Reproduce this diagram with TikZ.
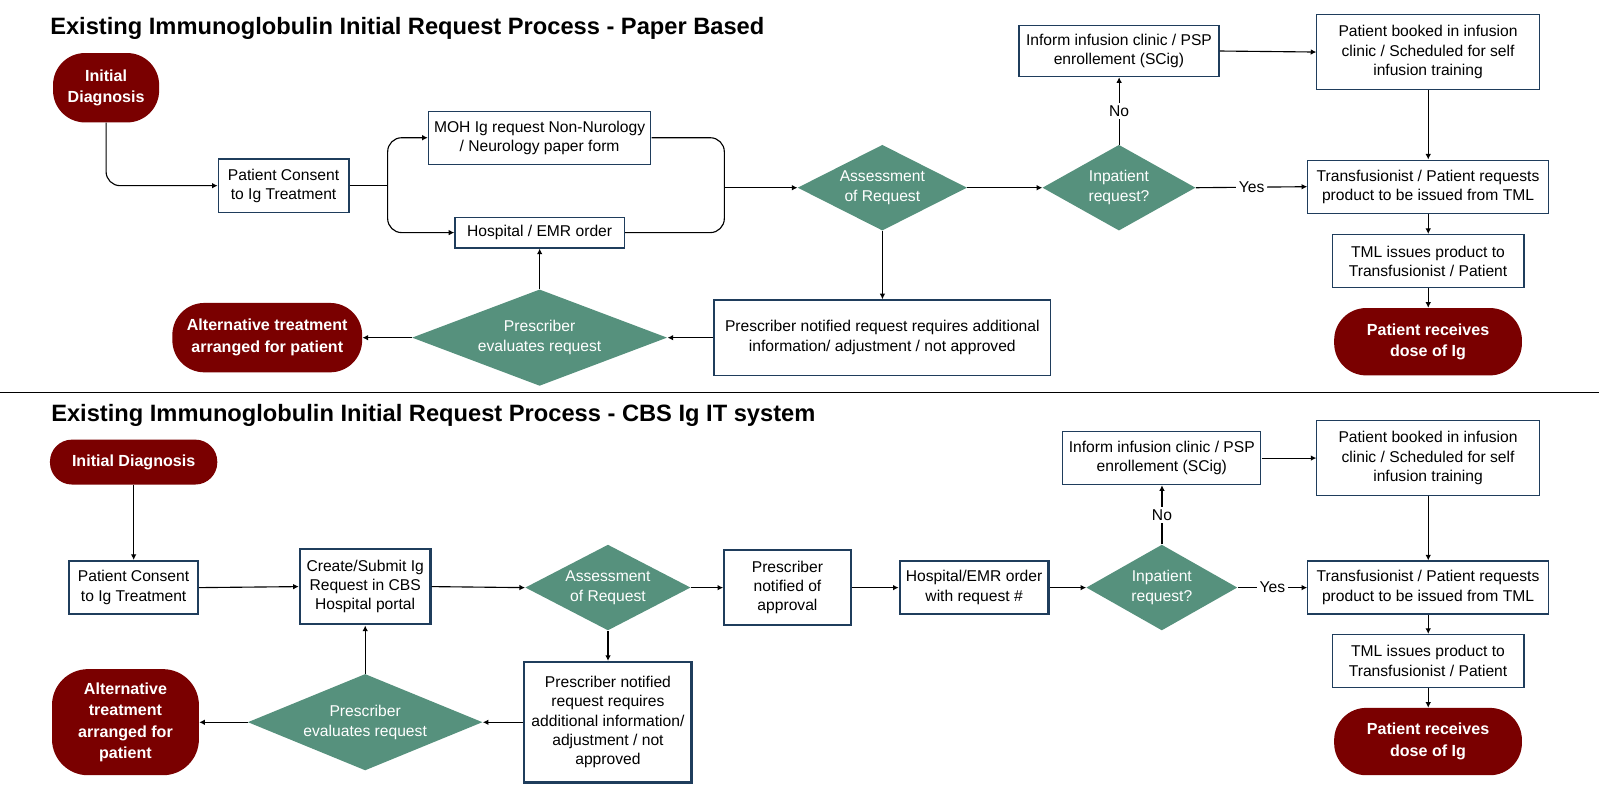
\documentclass[tikz,border=0pt]{standalone}
\usepackage{fontspec}
\setmainfont{Liberation Sans}
\usepackage{tikz}
\usetikzlibrary{shapes.geometric, arrows.meta, positioning}
\definecolor{ibred}{HTML}{7A0000}
\definecolor{ibgreen}{HTML}{56917D}
\definecolor{ibnavy}{HTML}{1F3D5C}
\tikzset{
  box/.style={draw=ibnavy, line width=0.9pt, fill=white, align=center, inner sep=1pt, font=\fontsize{10.9}{13.5}\selectfont},
  boxb/.style={box, line width=1.6pt},
  term/.style={fill=ibred, text=white, rounded corners=0.8cm, align=center, font=\fontsize{11.2}{15}\selectfont\bfseries},
  decide/.style={diamond, aspect=2, inner sep=0pt, fill=ibgreen, text=white, align=center, font=\fontsize{10.9}{14}\selectfont},
  flow/.style={-{Latex[length=4pt,width=4pt]}, line width=0.8pt},
  lbl/.style={fill=white, font=\fontsize{10.9}{12}\selectfont, inner sep=2pt},
  title/.style={anchor=west, inner sep=0pt, font=\fontsize{16.5}{19}\selectfont\bfseries}
}
\begin{document}
\begin{tikzpicture}[x=0.025cm, y=-0.025cm, scale=1.02, every node/.append style={transform shape}]

  % paper based
  \node[title] (title1) at (49,28) {Existing Immunoglobulin Initial Request Process - Paper Based};
  \node[term, minimum width=2.6cm, minimum height=1.7cm] (init1) at (104,86) {Initial\\Diagnosis};
  \node[box, minimum width=3.2cm, minimum height=1.3cm] (consent1) at (278,182) {Patient Consent\\to Ig Treatment};
  \node[box, minimum width=5.45cm, minimum height=1.3cm] (moh) at (529,135) {MOH Ig request Non-Nurology\\/ Neurology paper form};
  \node[box, minimum width=4.15cm, minimum height=0.75cm] (emr1) at (529,228) {Hospital / EMR order};
  \node[decide, minimum width=4.15cm, minimum height=2.1cm] (assess1) at (865,184) {Assessment\\of Request};
  \node[decide, minimum width=3.75cm, minimum height=2.1cm] (inpat1) at (1097,184) {Inpatient\\request?};
  \node[box, minimum width=4.9cm, minimum height=1.25cm] (inform1) at (1097,50) {Inform infusion clinic / PSP\\enrollement (SCig)};
  \node[box, minimum width=5.45cm, minimum height=1.85cm] (booked1) at (1400,51) {Patient booked in infusion\\clinic / Scheduled for self\\infusion training};
  \node[box, minimum width=5.9cm, minimum height=1.3cm] (transf1) at (1400,183) {Transfusionist / Patient requests\\product to be issued from TML};
  \node[box, minimum width=4.7cm, minimum height=1.3cm] (tml1) at (1400,256) {TML issues product to\\Transfusionist / Patient};
  \node[term, minimum width=4.6cm, minimum height=1.65cm] (recv1) at (1400,335) {Patient receives\\dose of Ig};
  \node[box, minimum width=8.25cm, minimum height=1.85cm] (notif1) at (865,331) {Prescriber notified request requires additional\\information/ adjustment / not approved};
  \node[decide, minimum width=6.25cm, minimum height=2.1cm] (presc1) at (529,331) {Prescriber\\evaluates request};
  \node[term, minimum width=4.65cm, minimum height=1.7cm] (alt1) at (262,331) {Alternative treatment\\arranged for patient};
  \coordinate (split1) at (380,182);
  \coordinate (join1) at (710,184);

  \draw[flow, rounded corners=0.35cm] (init1.south) |- (consent1.west);
  \draw[line width=0.8pt] (consent1.east) -- (split1);
  \draw[flow, rounded corners=0.35cm] (split1) |- (moh.west);
  \draw[flow, rounded corners=0.35cm] (split1) |- (emr1.west);
  \draw[line width=0.8pt, rounded corners=0.35cm] (moh.east) -| (join1);
  \draw[line width=0.8pt, rounded corners=0.35cm] (emr1.east) -| (join1);
  \draw[flow] (join1) -- (assess1.west);
  \draw[flow] (assess1.east) -- (inpat1.west);
  \draw[flow] (inpat1.north) -- node[lbl] {No} (inform1.south);
  \draw[flow] (inpat1.east) -- node[lbl] {Yes} (transf1.west);
  \draw[flow] (inform1.east) -- (booked1.west);
  \draw[flow] (booked1.south) -- (transf1.north);
  \draw[flow] (transf1.south) -- (tml1.north);
  \draw[flow] (tml1.south) -- (recv1.north);
  \draw[flow] (assess1.south) -- (notif1.north);
  \draw[flow] (notif1.west) -- (presc1.east);
  \draw[flow] (presc1.west) -- (alt1.east);
  \draw[flow] (presc1.north) -- (emr1.south);

  \draw[line width=1pt] (0,385) -- (1568,385);

  % CBS Ig IT system
  \node[title] (title2) at (50,407) {Existing Immunoglobulin Initial Request Process - CBS Ig IT system};
  \node[term, minimum width=4.1cm, minimum height=1.1cm, rounded corners=0.55cm] (init2) at (131,453) {Initial Diagnosis};
  \node[boxb, minimum width=3.15cm, minimum height=1.3cm] (consent2) at (131,576) {Patient Consent\\to Ig Treatment};
  \node[boxb, minimum width=3.2cm, minimum height=1.85cm] (create) at (358,575) {Create/Submit Ig\\Request in CBS\\Hospital portal};
  \node[decide, minimum width=4.05cm, minimum height=2.1cm] (assess2) at (596,576) {Assessment\\of Request};
  \node[boxb, minimum width=3.1cm, minimum height=1.85cm] (notifapp) at (772,576) {Prescriber\\notified of\\approval};
  \node[boxb, minimum width=3.65cm, minimum height=1.3cm] (emr2) at (955,576) {Hospital/EMR order\\with request \#};
  \node[decide, minimum width=3.7cm, minimum height=2.1cm] (inpat2) at (1139,576) {Inpatient\\request?};
  \node[box, minimum width=4.85cm, minimum height=1.3cm] (inform2) at (1139,449) {Inform infusion clinic / PSP\\enrollement (SCig)};
  \node[box, minimum width=5.45cm, minimum height=1.85cm] (booked2) at (1400,449) {Patient booked in infusion\\clinic / Scheduled for self\\infusion training};
  \node[box, minimum width=5.9cm, minimum height=1.3cm] (transf2) at (1400,576) {Transfusionist / Patient requests\\product to be issued from TML};
  \node[box, minimum width=4.7cm, minimum height=1.3cm] (tml2) at (1400,648) {TML issues product to\\Transfusionist / Patient};
  \node[term, minimum width=4.6cm, minimum height=1.65cm] (recv2) at (1400,727) {Patient receives\\dose of Ig};
  \node[boxb, minimum width=4.1cm, minimum height=2.95cm] (notif2) at (596,708) {Prescriber notified\\request requires\\additional information/\\adjustment / not\\approved};
  \node[decide, minimum width=5.75cm, minimum height=2.1cm] (presc2) at (358,708) {Prescriber\\evaluates request};
  \node[term, minimum width=3.6cm, minimum height=2.6cm, rounded corners=0.9cm] (alt2) at (123,708) {Alternative\\treatment\\arranged for\\patient};

  \draw[flow] (init2.south) -- (consent2.north);
  \draw[flow] (consent2.east) -- (create.west);
  \draw[flow] (create.east) -- (assess2.west);
  \draw[flow] (assess2.east) -- (notifapp.west);
  \draw[flow] (notifapp.east) -- (emr2.west);
  \draw[flow] (emr2.east) -- (inpat2.west);
  \draw[flow] (inpat2.north) -- node[lbl] {No} (inform2.south);
  \draw[flow] (inpat2.east) -- node[lbl] {Yes} (transf2.west);
  \draw[flow] (inform2.east) -- (booked2.west);
  \draw[flow] (booked2.south) -- (transf2.north);
  \draw[flow] (transf2.south) -- (tml2.north);
  \draw[flow] (tml2.south) -- (recv2.north);
  \draw[flow] (assess2.south) -- (notif2.north);
  \draw[flow] (notif2.west) -- (presc2.east);
  \draw[flow] (presc2.west) -- (alt2.east);
  \draw[flow] (presc2.north) -- (create.south);

  \pgfresetboundingbox
  \useasboundingbox (0,0) rectangle (1568.6,784.3);
\end{tikzpicture}
\end{document}
